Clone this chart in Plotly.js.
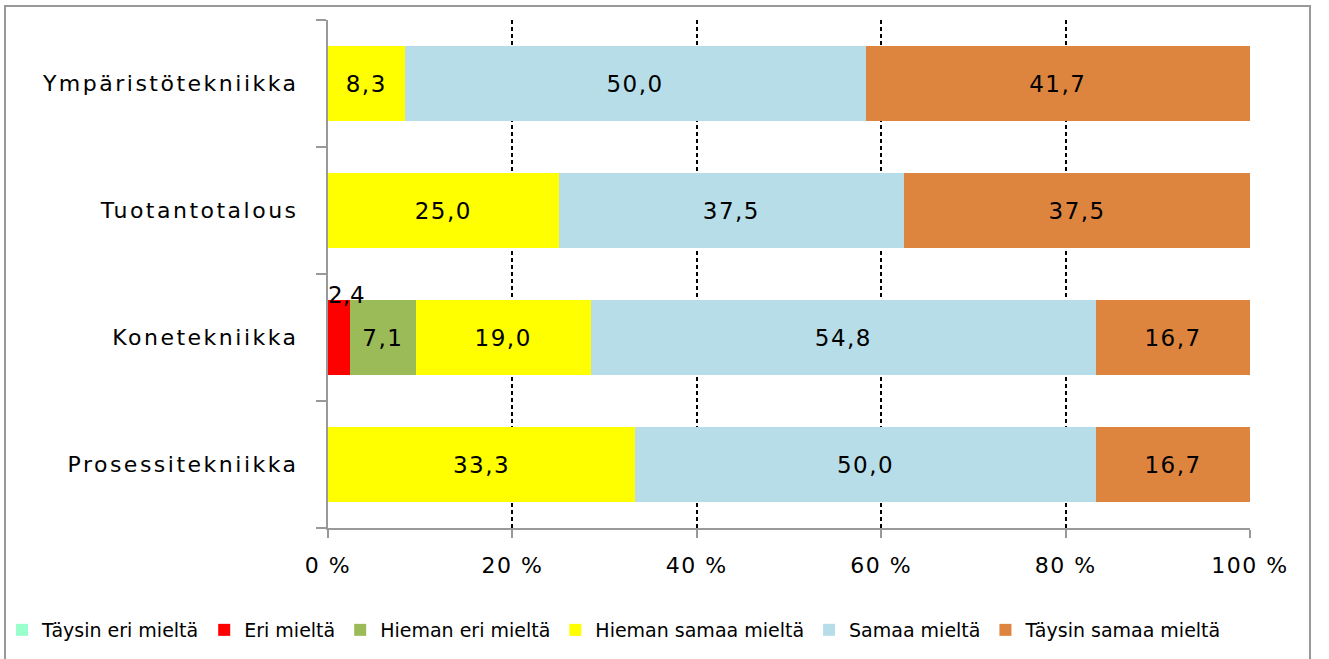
<!DOCTYPE html>
<html>
<head>
<meta charset="utf-8">
<script src="https://cdn.plot.ly/plotly-3.0.1.min.js"></script>
<style>
html,body{margin:0;padding:0;background:#fff;}
#chart{width:1329px;height:659px;}
#chart .ytick text{letter-spacing:2.5px;}
#chart .xtick text{letter-spacing:1.5px;}
#chart .bartext text, #chart text.bartext{letter-spacing:1.5px;}
</style>
</head>
<body>
<div id="chart"></div>
<script>
// Categories (bottom to top)
const categories = ["Prosessitekniikka", "Konetekniikka", "Tuotantotalous", "Ympäristötekniikka"];
const seriesNames = ["Täysin eri mieltä", "Eri mieltä", "Hieman eri mieltä", "Hieman samaa mieltä", "Samaa mieltä", "Täysin samaa mieltä"];
const taysinEri = [0, 0, 0, 0];
const eri = [0, 2.4, 0, 0];
const hiemanEri = [0, 7.1, 0, 0];
const hiemanSamaa = [33.3, 19.0, 25.0, 8.3];
const samaa = [50.0, 54.8, 37.5, 50.0];
const taysinSamaa = [16.7, 16.7, 37.5, 41.7];
const xTicks = [0, 20, 40, 60, 80, 100];

const seriesValues = [taysinEri, eri, hiemanEri, hiemanSamaa, samaa, taysinSamaa];
const colors = ["#99FFCC", "#FF0000", "#9BBB59", "#FFFF00", "#B7DEE8", "#DD853F"];

const FONT = "DejaVu Sans, sans-serif";
const fmt = v => v.toFixed(1).replace(".", ",");
const smallLimit = 4; // values this small get their label above the bar

const annotations = [];
const traces = seriesValues.map((vals, i) => {
  const text = vals.map(v => (v > 0 && v >= smallLimit) ? fmt(v) : "");
  vals.forEach((v, j) => {
    if (v > 0 && v < smallLimit) {
      let start = 0;
      for (let k = 0; k < i; k++) start += seriesValues[k][j];
      annotations.push({
        x: start, y: categories[j], xref: "x", yref: "y",
        text: fmt(v), showarrow: false, xanchor: "left", yanchor: "middle",
        yshift: 43, xshift: -2,
        font: {family: FONT, size: 23, color: "#000"}
      });
    }
  });
  return {
    type: "bar", orientation: "h", name: seriesNames[i],
    y: categories, x: vals,
    marker: {color: colors[i], line: {width: 0}},
    text: text, textposition: "inside", insidetextanchor: "middle",
    textangle: 0,
    insidetextfont: {family: FONT, size: 23, color: "#000"},
    hoverinfo: "skip"
  };
});

const L = 328, R = 1250, T = 20, B = 528, W = 1329, H = 659;
const pw = R - L, ph = B - T;

const layout = {
  width: W, height: H,
  margin: {l: L, r: W - R, t: T, b: H - B, pad: 0, autoexpand: false},
  barmode: "stack",
  bargap: 0.41,
  separators: ", ",
  paper_bgcolor: "#fff", plot_bgcolor: "#fff",
  font: {family: FONT, size: 22, color: "#000"},
  showlegend: true,
  legend: {
    orientation: "h", xref: "paper", yref: "paper",
    x: (2 - L) / pw, y: (B - 611) / ph, xanchor: "left", yanchor: "top",
    font: {family: FONT, size: 19, color: "#000"},
    traceorder: "normal", itemwidth: 30, bgcolor: "rgba(0,0,0,0)"
  },
  xaxis: {
    range: [0, 100], tickvals: xTicks, ticktext: xTicks.map(v => v + " %"),
    showgrid: true, gridcolor: "#000", gridwidth: 2, griddash: "4px,3px",
    zeroline: false, showline: true, linecolor: "#999", linewidth: 2,
    ticks: "outside", ticklen: 8, tickwidth: 2, tickcolor: "#999",
    tickfont: {family: FONT, size: 22, color: "#000"},
    ticklabelstandoff: 9, fixedrange: true
  },
  yaxis: {
    type: "category", categoryorder: "array", categoryarray: categories,
    range: [-0.5, categories.length - 0.5],
    showgrid: false, zeroline: false, showline: true, linecolor: "#999", linewidth: 2,
    ticks: "outside", tickson: "boundaries", ticklen: 10, tickwidth: 2, tickcolor: "#999",
    tickfont: {family: FONT, size: 22, color: "#000"},
    ticklabelstandoff: 23, fixedrange: true
  },
  annotations: annotations,
  shapes: [{
    type: "rect", xref: "paper", yref: "paper", layer: "above",
    x0: (5 - L) / pw, x1: (1310 - L) / pw,
    y0: (B - 700) / ph, y1: (B - 6) / ph,
    line: {color: "#999", width: 2}, fillcolor: "rgba(0,0,0,0)"
  }]
};

Plotly.newPlot("chart", traces, layout, {displayModeBar: false, staticPlot: true});
</script>
</body>
</html>
